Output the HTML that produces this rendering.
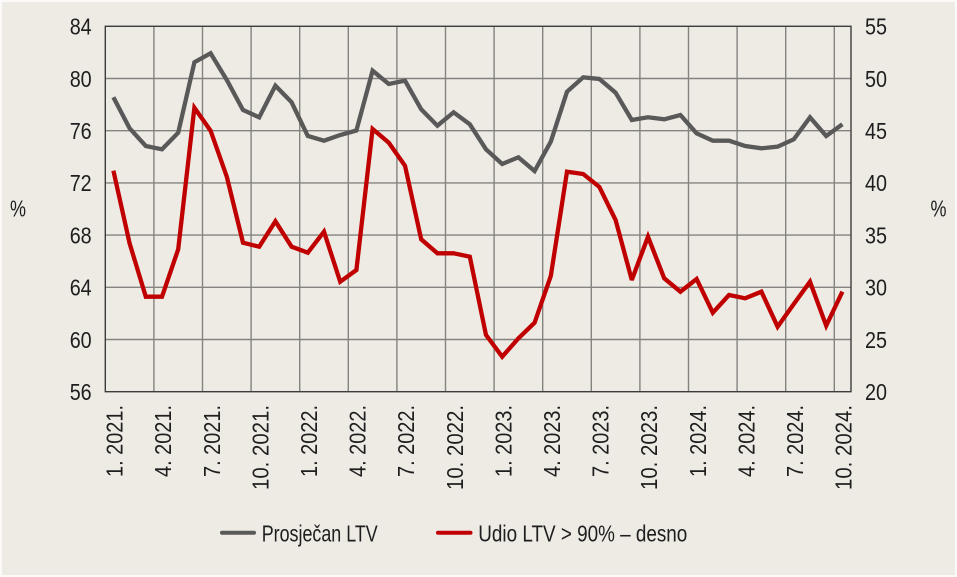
<!DOCTYPE html>
<html>
<head>
<meta charset="utf-8">
<style>
  html, body { margin:0; padding:0; background:#ffffff; }
  body { width:957px; height:577px; overflow:hidden; }
  svg { display:block; }
  text { font-family: "Liberation Sans", "DejaVu Sans", sans-serif; fill:#1e1e1e; }
</style>
</head>
<body>
<svg width="957" height="577" viewBox="0 0 957 577" xmlns="http://www.w3.org/2000/svg">
  <rect x="0" y="0" width="957" height="577" fill="#fbfaf8"/>
  <rect x="2" y="2" width="953" height="573" fill="#eeebe5"/>

  <!-- horizontal gridlines -->
  <g stroke="#858380" stroke-width="1.4">
    <line x1="105.3" y1="78.5" x2="851" y2="78.5"/>
    <line x1="105.3" y1="130.7" x2="851" y2="130.7"/>
    <line x1="105.3" y1="182.9" x2="851" y2="182.9"/>
    <line x1="105.3" y1="235.1" x2="851" y2="235.1"/>
    <line x1="105.3" y1="287.3" x2="851" y2="287.3"/>
    <line x1="105.3" y1="339.5" x2="851" y2="339.5"/>
  </g>
  <!-- vertical gridlines -->
  <g stroke="#858380" stroke-width="1.4">
    <line x1="153.9" y1="26.3" x2="153.9" y2="391.7"/>
    <line x1="202.5" y1="26.3" x2="202.5" y2="391.7"/>
    <line x1="251.1" y1="26.3" x2="251.1" y2="391.7"/>
    <line x1="299.7" y1="26.3" x2="299.7" y2="391.7"/>
    <line x1="348.3" y1="26.3" x2="348.3" y2="391.7"/>
    <line x1="396.9" y1="26.3" x2="396.9" y2="391.7"/>
    <line x1="445.5" y1="26.3" x2="445.5" y2="391.7"/>
    <line x1="494.1" y1="26.3" x2="494.1" y2="391.7"/>
    <line x1="542.7" y1="26.3" x2="542.7" y2="391.7"/>
    <line x1="591.3" y1="26.3" x2="591.3" y2="391.7"/>
    <line x1="639.9" y1="26.3" x2="639.9" y2="391.7"/>
    <line x1="688.5" y1="26.3" x2="688.5" y2="391.7"/>
    <line x1="737.1" y1="26.3" x2="737.1" y2="391.7"/>
    <line x1="785.7" y1="26.3" x2="785.7" y2="391.7"/>
    <line x1="834.3" y1="26.3" x2="834.3" y2="391.7"/>
  </g>
  <!-- frame -->
  <rect x="105.3" y="26.3" width="745.7" height="365.4" fill="none" stroke="#3c3c3c" stroke-width="1.4"/>

  <!-- red series -->
  <polyline fill="none" stroke="#c00000" stroke-width="4.3" stroke-linejoin="miter" stroke-miterlimit="3"
    points="113.4,170.7 129.6,243.3 145.8,296.7 162,296.7 178.2,249.3 194.4,107.7 210.6,130.7 226.8,176.7 243,242.7 259.2,246.7 275.4,221.3 291.6,246.7 307.8,252.7 324,231.7 340.2,281.7 356.4,270 372.6,129 388.8,142.7 405,165.7 421.2,239.3 437.4,253.3 453.6,253.3 469.8,256.7 486,335 502.2,356.7 518.4,338.3 534.6,322.7 550.8,276 567,171.7 583.2,174 599.4,187 615.6,220 631.8,280 648,236.7 664.2,278.3 680.4,291.7 696.6,279 712.8,312.7 729,295 745.2,298.3 761.4,291.7 777.6,326.7 793.8,304 810,281.7 826.2,325.7 842.4,291.7"/>

  <!-- gray series -->
  <polyline fill="none" stroke="#595959" stroke-width="4.3" stroke-linejoin="miter" stroke-miterlimit="3"
    points="113.4,97.3 129.6,128.3 145.8,146 162,149.3 178.2,132.7 194.4,62.3 210.6,53.3 226.8,80 243,110 259.2,117.3 275.4,85.7 291.6,102.3 307.8,136 324,140.7 340.2,135 356.4,130.5 372.6,70.7 388.8,84 405,80.7 421.2,109.3 437.4,125.7 453.6,112.3 469.8,124.3 486,149.3 502.2,164 518.4,157.3 534.6,171 550.8,141.7 567,91.7 583.2,77.3 599.4,79 615.6,92.7 631.8,120 648,117.3 664.2,119.3 680.4,115 696.6,133.3 712.8,140.7 729,140.7 745.2,146 761.4,148.3 777.6,146.7 793.8,139.3 810,117.3 826.2,136 842.4,124.3"/>

  <!-- left axis labels -->
  <g font-size="23">
    <text x="69.7" y="34.6" textLength="22" lengthAdjust="spacingAndGlyphs">84</text>
    <text x="69.7" y="86.8" textLength="22" lengthAdjust="spacingAndGlyphs">80</text>
    <text x="69.7" y="139" textLength="22" lengthAdjust="spacingAndGlyphs">76</text>
    <text x="69.7" y="191.2" textLength="22" lengthAdjust="spacingAndGlyphs">72</text>
    <text x="69.7" y="243.4" textLength="22" lengthAdjust="spacingAndGlyphs">68</text>
    <text x="69.7" y="295.6" textLength="22" lengthAdjust="spacingAndGlyphs">64</text>
    <text x="69.7" y="347.8" textLength="22" lengthAdjust="spacingAndGlyphs">60</text>
    <text x="69.7" y="400" textLength="22" lengthAdjust="spacingAndGlyphs">56</text>
  </g>
  <!-- right axis labels -->
  <g font-size="23">
    <text x="865" y="34.6" textLength="22" lengthAdjust="spacingAndGlyphs">55</text>
    <text x="865" y="86.8" textLength="22" lengthAdjust="spacingAndGlyphs">50</text>
    <text x="865" y="139" textLength="22" lengthAdjust="spacingAndGlyphs">45</text>
    <text x="865" y="191.2" textLength="22" lengthAdjust="spacingAndGlyphs">40</text>
    <text x="865" y="243.4" textLength="22" lengthAdjust="spacingAndGlyphs">35</text>
    <text x="865" y="295.6" textLength="22" lengthAdjust="spacingAndGlyphs">30</text>
    <text x="865" y="347.8" textLength="22" lengthAdjust="spacingAndGlyphs">25</text>
    <text x="865" y="400" textLength="22" lengthAdjust="spacingAndGlyphs">20</text>
  </g>

  <!-- % labels -->
  <text x="10" y="216.7" font-size="23" textLength="16" lengthAdjust="spacingAndGlyphs">%</text>
  <text x="930.5" y="216.7" font-size="23" textLength="16" lengthAdjust="spacingAndGlyphs">%</text>

  <!-- x tick labels (rotated) -->
  <g font-size="23">
    <text transform="translate(122.6,477) rotate(-90)" textLength="72" lengthAdjust="spacingAndGlyphs">1. 2021.</text>
    <text transform="translate(171.2,477) rotate(-90)" textLength="72" lengthAdjust="spacingAndGlyphs">4. 2021.</text>
    <text transform="translate(219.8,477) rotate(-90)" textLength="72" lengthAdjust="spacingAndGlyphs">7. 2021.</text>
    <text transform="translate(268.4,490) rotate(-90)" textLength="85" lengthAdjust="spacingAndGlyphs">10. 2021.</text>
    <text transform="translate(317,477) rotate(-90)" textLength="72" lengthAdjust="spacingAndGlyphs">1. 2022.</text>
    <text transform="translate(365.6,477) rotate(-90)" textLength="72" lengthAdjust="spacingAndGlyphs">4. 2022.</text>
    <text transform="translate(414.2,477) rotate(-90)" textLength="72" lengthAdjust="spacingAndGlyphs">7. 2022.</text>
    <text transform="translate(462.8,490) rotate(-90)" textLength="85" lengthAdjust="spacingAndGlyphs">10. 2022.</text>
    <text transform="translate(511.4,477) rotate(-90)" textLength="72" lengthAdjust="spacingAndGlyphs">1. 2023.</text>
    <text transform="translate(560,477) rotate(-90)" textLength="72" lengthAdjust="spacingAndGlyphs">4. 2023.</text>
    <text transform="translate(608.6,477) rotate(-90)" textLength="72" lengthAdjust="spacingAndGlyphs">7. 2023.</text>
    <text transform="translate(657.2,490) rotate(-90)" textLength="85" lengthAdjust="spacingAndGlyphs">10. 2023.</text>
    <text transform="translate(705.8,477) rotate(-90)" textLength="72" lengthAdjust="spacingAndGlyphs">1. 2024.</text>
    <text transform="translate(754.4,477) rotate(-90)" textLength="72" lengthAdjust="spacingAndGlyphs">4. 2024.</text>
    <text transform="translate(803,477) rotate(-90)" textLength="72" lengthAdjust="spacingAndGlyphs">7. 2024.</text>
    <text transform="translate(851.6,490) rotate(-90)" textLength="85" lengthAdjust="spacingAndGlyphs">10. 2024.</text>
  </g>

  <!-- legend -->
  <line x1="222" y1="532.7" x2="254" y2="532.7" stroke="#595959" stroke-width="4" stroke-linecap="round"/>
  <text x="261.7" y="541.5" font-size="23" textLength="116" lengthAdjust="spacingAndGlyphs">Prosječan LTV</text>
  <line x1="438" y1="532.7" x2="470.5" y2="532.7" stroke="#c00000" stroke-width="4" stroke-linecap="round"/>
  <text x="478.3" y="541.5" font-size="23" textLength="209" lengthAdjust="spacingAndGlyphs">Udio LTV &gt; 90% – desno</text>
</svg>
</body>
</html>
